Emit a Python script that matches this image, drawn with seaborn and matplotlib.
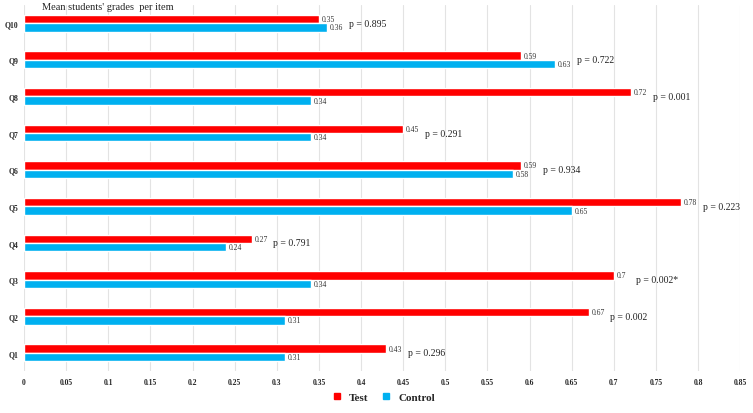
import pandas as pd
import matplotlib
matplotlib.use('Agg')
import matplotlib.pyplot as plt
from matplotlib.lines import Line2D
import seaborn as sns

# items listed top to bottom as in the chart
items = ["Q10", "Q9", "Q8", "Q7", "Q6", "Q5", "Q4", "Q3", "Q2", "Q1"]
test_vals = [0.35, 0.59, 0.72, 0.45, 0.59, 0.78, 0.27, 0.7, 0.67, 0.43]
control_vals = [0.36, 0.63, 0.34, 0.34, 0.58, 0.65, 0.24, 0.34, 0.31, 0.31]
p_labels = ["p = 0.895", "p = 0.722", "p = 0.001", "p = 0.291", "p = 0.934",
            "p = 0.223", "p = 0.791", "p = 0.002*", "p = 0.002", "p = 0.296"]
groups = ["Test", "Control"]
colors = {"Test": "#FF0000", "Control": "#00B0F0"}
x_ticks = [0, 0.05, 0.1, 0.15, 0.2, 0.25, 0.3, 0.35, 0.4, 0.45,
           0.5, 0.55, 0.6, 0.65, 0.7, 0.75, 0.8, 0.85]

df = pd.DataFrame({
    "item": items * 2,
    "grade": test_vals + control_vals,
    "group": ["Test"] * len(items) + ["Control"] * len(items),
})

sns.set_style("white")
plt.rcParams['font.family'] = ['Liberation Serif', 'DejaVu Serif']

fig = plt.figure(figsize=(7.53, 4.14), dpi=100)
ax = fig.add_axes([0.032, 0.101, 0.951, 0.885])

sns.barplot(data=df, y="item", x="grade", hue="group", order=items,
            hue_order=groups, palette=colors, width=0.46, orient="h",
            legend=False, ax=ax, saturation=1)

for cont in ax.containers:
    ax.bar_label(cont, labels=[f"{v:g}" for v in cont.datavalues],
                 fontsize=5.5, padding=2, color="#333333")

for i, (t, c, p) in enumerate(zip(test_vals, control_vals, p_labels)):
    ax.text(max(t, c) + 0.026, i, p, fontsize=7, va="center", ha="left",
            color="#222222")

ax.set_xlim(0, 0.85)
ax.set_xticks(x_ticks)
ax.set_xticklabels([f"{v:g}" for v in x_ticks], fontsize=5.5, fontweight="bold")
ax.tick_params(axis="y", labelsize=5.5, length=0, pad=4)
ax.tick_params(axis="x", length=0, pad=5)
for lab in ax.get_yticklabels():
    lab.set_fontweight("bold")
ax.set_xlabel("")
ax.set_ylabel("")
ax.xaxis.grid(True, color="#E3E3E3", linewidth=0.8)
ax.set_axisbelow(True)
for s in ax.spines.values():
    s.set_visible(False)

fig.text(0.056, 0.992, "Mean students' grades  per item", fontsize=7.5,
         va="top", ha="left")

handles = [Line2D([], [], marker="s", linestyle="", markersize=5,
                  color=colors[g]) for g in groups]
fig.legend(handles, groups, loc="center", bbox_to_anchor=(0.505, 0.038),
           ncol=2, frameon=False, prop={"weight": "bold", "size": 8},
           handletextpad=0.1, columnspacing=0.6)

fig.savefig("out.png", dpi=100)
